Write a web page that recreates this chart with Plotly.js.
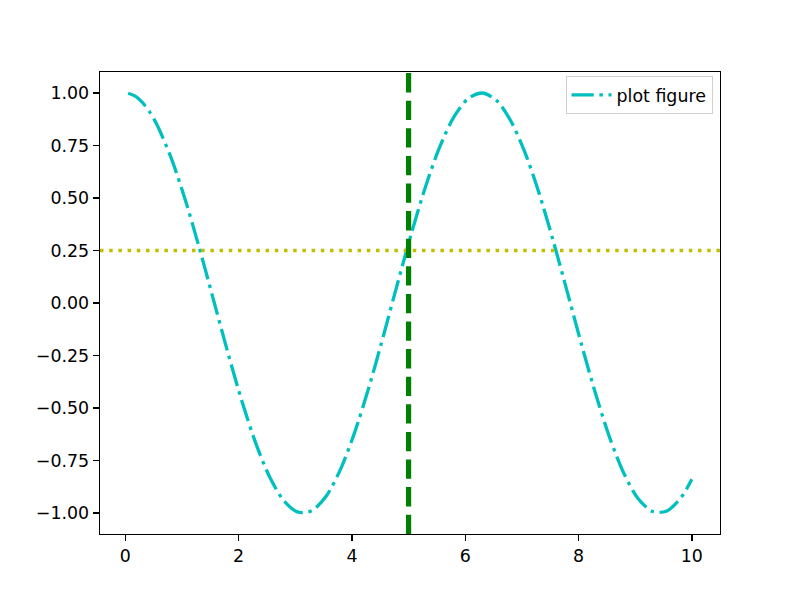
<!DOCTYPE html>
<html>
<head>
<meta charset="utf-8">
<script src="https://cdn.plot.ly/plotly-3.0.1.min.js"></script>
<style>body{margin:0;background:#fff;}#chart{width:800px;height:600px;}</style>
</head>
<body>
<div id="chart"></div>
<script>
// values
const xValues = [0.05, 0.175, 0.3, 0.425, 0.55, 0.8, 1.05, 1.3, 1.55, 1.8, 2.05, 2.3, 2.55, 2.8, 3.05, 3.3, 3.55, 3.8, 4.05, 4.3, 4.55, 4.8, 5.05, 5.3, 5.55, 5.8, 6.05, 6.3, 6.55, 6.8, 7.05, 7.3, 7.55, 7.8, 8.05, 8.3, 8.55, 8.8, 9.05, 9.3, 9.55, 9.8, 9.9, 10.0];
const yValues = [0.999, 0.985, 0.955, 0.911, 0.853, 0.697, 0.498, 0.268, 0.021, -0.227, -0.461, -0.666, -0.830, -0.942, -0.996, -0.988, -0.918, -0.791, -0.615, -0.401, -0.162, 0.088, 0.332, 0.555, 0.743, 0.886, 0.973, 1.000, 0.965, 0.869, 0.720, 0.526, 0.299, 0.054, -0.195, -0.431, -0.641, -0.811, -0.931, -0.992, -0.992, -0.930, -0.889, -0.839];
const seriesName = "plot figure";
const hLineY = 0.25;
const vLineX = 5;
const xTicks = [0, 2, 4, 6, 8, 10];
const yTicks = [-1.0, -0.75, -0.5, -0.25, 0.0, 0.25, 0.5, 0.75, 1.0];

const font = "DejaVu Sans, sans-serif";
const fs = 17.4;

const traces = [{
  x: xValues, y: yValues, type: "scatter", mode: "lines", name: seriesName,
  line: {color: "#00bfbf", width: 3.3, dash: "22.2px,5.6px,3.5px,5.6px", shape: "spline", smoothing: 0.8}
}];

const layout = {
  width: 800, height: 600,
  margin: {l: 100, r: 80, t: 72, b: 66},
  paper_bgcolor: "#ffffff", plot_bgcolor: "#ffffff",
  font: {family: font, size: fs, color: "#000000"},
  showlegend: true,
  legend: {
    x: 0.988, y: 0.991, xanchor: "right", yanchor: "top",
    itemwidth: 40,
    bgcolor: "rgba(255,255,255,0.8)", bordercolor: "#d0d0d0", borderwidth: 1,
    font: {family: font, size: fs, color: "#000000"}
  },
  xaxis: {
    range: [-0.4475, 10.4975], tickvals: xTicks, ticktext: xTicks.map(String),
    showgrid: false, zeroline: false, showline: true, mirror: true,
    linecolor: "#000000", linewidth: 1.4, ticks: "outside", ticklen: 6, tickwidth: 1.4,
    tickcolor: "#000000", tickfont: {family: font, size: fs, color: "#000000"}
  },
  yaxis: {
    range: [-1.1, 1.1], tickvals: yTicks, tickformat: ".2f",
    showgrid: false, zeroline: false, showline: true, mirror: true,
    linecolor: "#000000", linewidth: 1.4, ticks: "outside", ticklen: 6, tickwidth: 1.4,
    tickcolor: "#000000", tickfont: {family: font, size: fs, color: "#000000"}
  },
  shapes: [
    {type: "line", xref: "paper", yref: "y", x0: 0, x1: 1, y0: hLineY, y1: hLineY,
     line: {color: "#bfbf00", width: 3.47, dash: "3.5px,5.7px"}, layer: "above"},
    {type: "line", xref: "x", yref: "paper", x0: vLineX, x1: vLineX, y0: 0, y1: 1,
     line: {color: "#008000", width: 5.2, dash: "19.3px,8.3px"}, layer: "above"}
  ]
};

Plotly.newPlot("chart", traces, layout, {displayModeBar: false, staticPlot: true});
</script>
</body>
</html>
